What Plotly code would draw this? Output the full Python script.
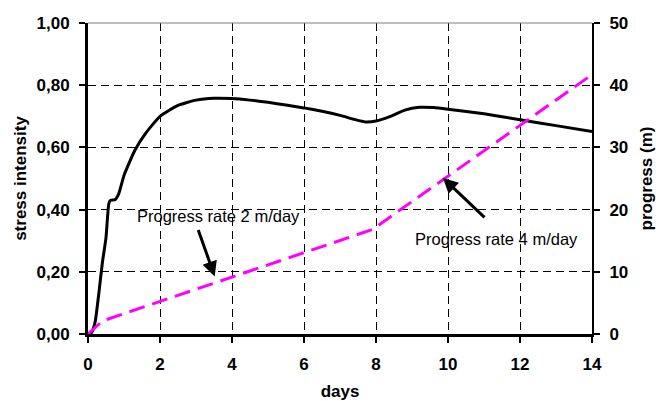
import plotly.graph_objects as go

# Stress intensity over time (left axis)
stress_days = [0, 0.1, 0.2, 0.3, 0.4, 0.5, 0.58, 0.63, 0.75, 0.85, 1.0, 1.3, 1.6, 2.0,
               2.5, 3.0, 3.5, 4.0, 4.5, 5.0, 5.5, 6.0, 6.5, 7.0, 7.4, 7.7, 8.0, 8.4,
               8.8, 9.2, 9.6, 10.0, 11.0, 12.0, 13.0, 14.0]
stress_vals = [0.0, 0.005, 0.04, 0.13, 0.23, 0.31, 0.42, 0.43, 0.432, 0.45, 0.51, 0.59,
               0.645, 0.70, 0.735, 0.752, 0.758, 0.757, 0.752, 0.745, 0.736, 0.727,
               0.716, 0.703, 0.69, 0.682, 0.685, 0.70, 0.72, 0.729, 0.728, 0.723,
               0.708, 0.689, 0.670, 0.651]

# Face progress (right axis)
progress_days = [0, 0.4, 7.9, 14.0]
progress_m = [0.0, 2.1, 16.8, 41.7]

x_ticks = [0, 2, 4, 6, 8, 10, 12, 14]
stress_ticks = [0, 0.2, 0.4, 0.6, 0.8, 1.0]
progress_ticks = [0, 10, 20, 30, 40, 50]

FONT = "Liberation Sans"

fig = go.Figure()
fig.add_trace(go.Scatter(
    x=stress_days, y=stress_vals, mode="lines",
    line=dict(color="black", width=3, shape="spline", smoothing=0.5),
    yaxis="y", hoverinfo="skip"))
fig.add_trace(go.Scatter(
    x=progress_days, y=progress_m, mode="lines",
    line=dict(color="#FF00FF", width=3, dash="16px,8px"),
    yaxis="y2", hoverinfo="skip"))

tickfont = dict(family=FONT, size=17, color="black", weight="bold")
titlefont = dict(family=FONT, size=17, color="black", weight="bold")

fig.update_layout(
    width=656, height=401,
    margin=dict(l=88, r=64, t=23, b=67, autoexpand=False),
    paper_bgcolor="white", plot_bgcolor="white",
    showlegend=False,
    separators=", ",
    xaxis=dict(
        range=[0, 14], tickvals=x_ticks, tickfont=tickfont, automargin=False,
        showline=True, linecolor="black", linewidth=3,
        ticks="outside", ticklen=6, tickwidth=2, tickcolor="black",
        showgrid=True, gridcolor="black", gridwidth=1, griddash="8px,5px",
        zeroline=False, ticklabelstandoff=7,
        title=dict(text="days", font=titlefont, standoff=14)),
    yaxis=dict(
        range=[0, 1], tickvals=stress_ticks, tickformat=".2f", tickfont=tickfont,
        automargin=False,
        showline=True, linecolor="black", linewidth=3,
        ticks="outside", ticklen=6, tickwidth=2, tickcolor="black",
        showgrid=True, gridcolor="black", gridwidth=1, griddash="8px,5px",
        zeroline=False, ticklabelstandoff=6,
        title=dict(text="stress intensity", font=titlefont, standoff=6)),
    yaxis2=dict(
        range=[0, 50], tickvals=progress_ticks, tickfont=tickfont,
        overlaying="y", side="right", automargin=False,
        showline=True, linecolor="black", linewidth=2,
        ticks="outside", ticklen=6, tickwidth=2, tickcolor="black",
        showgrid=False, zeroline=False, ticklabelstandoff=6,
        title=dict(text="progress (m)", font=titlefont, standoff=14)),
)

# thin top frame line
fig.add_shape(type="line", xref="paper", yref="paper", x0=0, x1=1, y0=1, y1=1,
              line=dict(color="#808080", width=1))

labelfont = dict(family=FONT, size=16.5, color="black")
fig.add_annotation(x=3.63, y=0.381, xref="x", yref="y", text="Progress rate 2 m/day",
                   showarrow=False, font=labelfont)
fig.add_annotation(x=11.35, y=0.305, xref="x", yref="y", text="Progress rate 4 m/day",
                   showarrow=False, font=labelfont)
fig.add_annotation(x=3.52, y=0.185, xref="x", yref="y", text="", showarrow=True,
                   ax=-17, ay=-48, arrowhead=2, arrowsize=1, arrowwidth=3,
                   arrowcolor="black")
fig.add_annotation(x=9.86, y=0.502, xref="x", yref="y", text="", showarrow=True,
                   ax=43, ay=41, arrowhead=2, arrowsize=1, arrowwidth=3,
                   arrowcolor="black")

fig.write_html("out.html")
